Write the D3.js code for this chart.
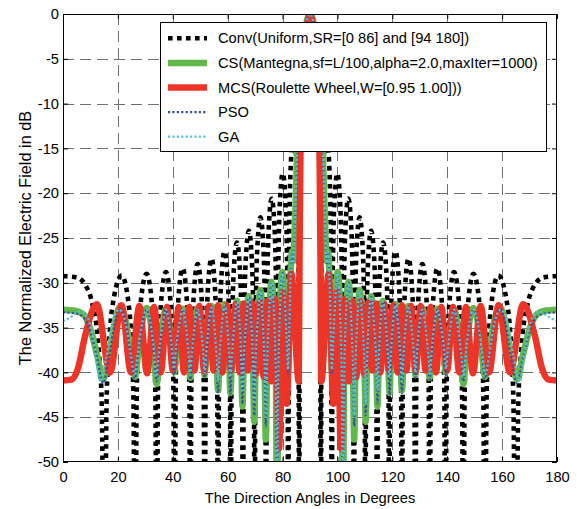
<!DOCTYPE html>
<html><head><meta charset="utf-8">
<script src="https://cdn.jsdelivr.net/npm/d3@7"></script>
<style>
body{margin:0;background:#fff}
svg{display:block}
text{font-family:"Liberation Sans",Arial,Helvetica,sans-serif;fill:#000}
</style>
</head><body>
<svg id="chart" width="577" height="509"></svg>
<script>
// ---------------- data ----------------
const angleTicks = [0, 20, 40, 60, 80, 100, 120, 140, 160, 180];
const dbTicks = [0, -5, -10, -15, -20, -25, -30, -35, -40, -45, -50];
const seriesNames = [
  "Conv(Uniform,SR=[0 86] and [94 180])",
  "CS(Mantegna,sf=L/100,alpha=2.0,maxIter=1000)",
  "MCS(Roulette Wheel,W=[0.95 1.00]))",
  "PSO",
  "GA"
];
// Patterns are symmetric about 90 deg: values for 0..90 deg, [angle, dB]
const convHalf = [
 [0,-29.25],[5,-29.4],[9.1,-30.8],[10.66,-32.3],[13.06,-37.6],[14.11,-43.4],[15.08,-70],
 [15.87,-43.4],[16.66,-37.5],[18.24,-32.2],[21.39,-29.2],[23.85,-32.2],[25.07,-37.5],[25.69,-43.4],[26.30,-70],
 [26.82,-43.2],[27.34,-37.3],[28.38,-32.0],[30.45,-29.0],[32.30,-32.0],[33.23,-37.3],[33.69,-43.2],[34.15,-70],
 [34.57,-43.0],[34.99,-37.1],[35.84,-31.8],[37.52,-28.8],[39.09,-31.8],[39.88,-37.1],[40.27,-43.0],[40.66,-70],
 [41.03,-42.6],[41.40,-36.7],[42.13,-31.4],[43.60,-28.4],[45.00,-31.4],[45.70,-36.7],[46.05,-42.6],[46.40,-70],
 [46.73,-42.1],[47.07,-36.2],[47.74,-30.9],[49.07,-27.9],[50.35,-30.9],[50.99,-36.2],[51.31,-42.1],[51.63,-70],
 [51.94,-41.5],[52.25,-35.6],[52.87,-30.3],[54.11,-27.3],[55.31,-30.3],[55.91,-35.6],[56.21,-41.5],[56.51,-70],
 [56.80,-40.7],[57.10,-34.8],[57.69,-29.5],[58.86,-26.5],[60.00,-29.5],[60.56,-34.8],[60.85,-40.7],[61.13,-70],
 [61.41,-39.7],[61.69,-33.8],[62.25,-28.5],[63.37,-25.5],[64.47,-28.5],[65.01,-33.8],[65.29,-39.7],[65.56,-70],
 [65.83,-38.4],[66.10,-32.5],[66.64,-27.2],[67.71,-24.2],[68.77,-27.2],[69.30,-32.5],[69.57,-38.4],[69.83,-70],
 [70.09,-36.9],[70.35,-31.0],[70.88,-25.7],[71.92,-22.7],[72.96,-25.7],[73.47,-31.0],[73.73,-36.9],[73.99,-70],
 [74.25,-34.8],[74.50,-28.9],[75.01,-23.6],[76.03,-20.6],[77.05,-23.6],[77.55,-28.9],[77.81,-34.8],[78.06,-70],
 [78.31,-32.0],[78.56,-26.1],[79.07,-20.8],[80.07,-17.8],[81.07,-20.8],[81.57,-26.1],[81.82,-32.0],[82.07,-70],
 [82.32,-27.6],[82.57,-21.7],[83.07,-16.4],[84.06,-13.4],[85.06,-16.4],[85.55,-21.7],[85.80,-27.6],[86.05,-70],
 [86.29,-23.6],[86.54,-17.1],[87.04,-10.45],[88.02,-3.92],[89.01,-0.91],[90,0]
];
const csHalf = [
 [0,-33.0],[4,-33.1],[7.3,-33.5],[10,-35.2],[12.5,-38.2],[14.6,-40.8],[16.8,-38.0],[18.8,-34.5],[20.8,-32.7],
 [22.9,-34.3],[24.8,-38.0],[26.2,-40.5],[27.5,-37.5],[28.9,-34.3],[30.5,-32.8],[32.2,-35.0],[33.3,-38.5],[34.1,-41.3],
 [35.0,-38.3],[36.1,-35.0],[37.5,-32.9],[39.0,-35.3],[39.9,-38.3],[40.5,-40.0],[41.3,-37.5],[42.3,-34.8],[43.6,-32.9],
 [44.9,-35.3],[45.8,-38.5],[46.4,-40.6],[47.1,-38.0],[47.9,-35.0],[49.1,-32.8],[50.3,-35.3],[51.1,-38.3],[51.6,-40.3],
 [52.2,-38.0],[53.0,-35.0],[54.1,-32.6],[55.3,-35.5],[56.0,-39.0],[56.5,-42.0],[57.0,-39.0],[57.8,-35.0],[58.9,-32.4],
 [60.0,-35.5],[60.6,-39.0],[61.0,-42.3],[61.5,-39.0],[62.3,-35.0],[63.4,-32.0],[64.5,-35.5],[65.0,-39.5],[65.4,-43.8],
 [65.8,-39.5],[66.6,-35.0],[67.7,-31.5],[68.8,-35.5],[69.3,-40.0],[69.7,-45.5],[70.1,-40.0],[70.9,-34.5],[71.9,-30.8],
 [72.9,-35.0],[73.5,-40.5],[73.9,-47.5],[74.3,-40.5],[75.0,-34.0],[76.0,-29.9],[77.0,-34.5],[77.6,-41.0],[78.0,-60],
 [78.4,-41.0],[79.0,-33.5],[79.9,-28.8],[80.9,-32.5],[81.6,-37.0],[82.0,-40.0],[82.4,-36.0],[82.9,-29.5],[83.4,-26.5],
 [83.9,-27.6],[84.4,-24.5],[85.0,-18.5],[85.6,-13.0],[86.5,-7.5],[87.6,-3.5],[88.7,-1.0],[90,0]
];
const mcsHalf = [
 [0,-40.9],[3,-40.8],[5.5,-39.5],[8,-36.0],[12.3,-32.4],[17.14,-40.0],[21.30,-32.5],[24.78,-40.0],[27.83,-32.6],
 [30.64,-40.1],[33.20,-32.7],[35.61,-40.0],[37.88,-32.7],[40.05,-39.8],[42.12,-32.7],[44.11,-40.0],[46.03,-32.7],
 [47.89,-39.8],[49.70,-32.6],[51.47,-39.9],[53.18,-32.6],[54.87,-39.8],[56.51,-32.5],[58.13,-40.0],[59.72,-32.5],
 [61.28,-39.8],[62.82,-32.4],[64.34,-40.0],[65.84,-32.3],[67.32,-39.8],[68.79,-32.2],[70.24,-40.2],[71.68,-32.1],
 [73.11,-40.5],[74.53,-32.0],[75.94,-41.0],[77.33,-31.8],[78.73,-48.5],[80.11,-31.0],[81.49,-43.5],[83.2,-29.0],
 [85.9,-41.0],[86.2,-26.0],[86.5,-16.0],[87.2,-9.0],[88.2,-3.8],[89.1,-1.0],[90,0]
];
const psoHalf = [
 [0,-33.3],[4,-33.4],[7.3,-33.8],[10,-35.5],[12.5,-38.5],[14.6,-41.2],[16.8,-38.2],[18.8,-34.6],[20.8,-32.9],
 [22.9,-34.5],[24.8,-38.2],[26.2,-40.7],[27.5,-37.7],[28.9,-34.5],[30.5,-33.0],[32.2,-35.2],[33.3,-38.4],[34.1,-41.0],
 [35.0,-38.2],[36.1,-35.1],[37.5,-33.0],[39.0,-35.4],[39.9,-38.5],[40.5,-40.3],[41.3,-37.6],[42.3,-34.9],[43.6,-33.0],
 [44.9,-35.4],[45.8,-38.6],[46.4,-40.8],[47.1,-38.2],[47.9,-35.1],[49.1,-32.9],[50.3,-35.4],[51.1,-38.5],[51.6,-40.6],
 [52.2,-38.2],[53.0,-35.1],[54.1,-32.7],[55.3,-35.6],[56.0,-39.3],[56.5,-42.3],[57.0,-39.2],[57.8,-35.1],[58.9,-32.5],
 [60.0,-35.6],[60.6,-39.2],[61.0,-42.5],[61.5,-39.2],[62.3,-35.1],[63.4,-32.1],[64.5,-35.6],[65.0,-39.6],[65.4,-43.5],
 [65.8,-39.6],[66.6,-35.1],[67.7,-31.6],[68.8,-35.6],[69.3,-40.0],[69.7,-44.8],[70.1,-40.0],[70.9,-34.6],[71.9,-30.9],
 [72.9,-35.1],[73.5,-40.8],[73.9,-46.0],[74.3,-40.8],[75.0,-34.1],[76.0,-30.0],[77.0,-34.6],[77.6,-41.5],[78.0,-62],
 [78.4,-41.5],[79.0,-33.6],[79.9,-28.9],[80.9,-32.6],[81.6,-37.2],[82.0,-40.2],[82.4,-36.2],[82.9,-29.6],[83.4,-26.6],
 [83.9,-27.8],[84.4,-24.6],[85.0,-18.6],[85.6,-13.1],[86.5,-7.6],[87.6,-3.5],[88.7,-1.0],[90,0]
];
const gaHalf = [
 [0,-34.3],[3,-33.8],[6.5,-33.2],[9,-33.9],[11.3,-36.8],[13.6,-41.0],[15.8,-38.3],[18.2,-34.2],[20.6,-33.0],
 [22.8,-34.5],[24.7,-38.0],[26.0,-40.2],[27.4,-37.5],[28.9,-34.4],[30.5,-33.0],[32.2,-35.1],[33.3,-38.2],[34.0,-40.5],
 [34.9,-38.0],[36.1,-35.0],[37.5,-33.0],[39.0,-35.3],[39.9,-38.0],[40.4,-39.6],[41.2,-37.3],[42.3,-34.8],[43.6,-33.0],
 [44.9,-35.2],[45.8,-38.2],[46.3,-40.2],[47.0,-37.8],[47.9,-35.0],[49.1,-33.0],[50.3,-35.2],[51.1,-38.0],[51.6,-40.0],
 [52.2,-37.8],[53.0,-35.0],[54.1,-32.8],[55.3,-35.4],[56.0,-38.6],[56.5,-41.0],[57.0,-38.6],[57.8,-35.0],[58.9,-32.5],
 [60.0,-35.4],[60.6,-38.4],[61.0,-40.5],[61.5,-38.4],[62.3,-35.0],[63.4,-32.1],[64.5,-35.4],[65.0,-39.0],[65.4,-42.0],
 [65.8,-39.0],[66.6,-35.0],[67.7,-31.6],[68.8,-35.4],[69.3,-39.5],[69.7,-43.5],[70.1,-39.5],[70.9,-34.5],[71.9,-30.9],
 [72.9,-35.0],[73.5,-40.0],[73.9,-45.0],[74.3,-40.0],[75.0,-34.0],[76.0,-30.0],[77.0,-34.5],[77.6,-41.5],[78.0,-62],
 [78.4,-41.5],[79.0,-33.6],[79.9,-28.9],[80.9,-32.5],[81.6,-37.0],[82.0,-39.7],[82.4,-36.0],[82.9,-29.6],[83.4,-26.6],
 [83.9,-27.8],[84.4,-24.6],[85.0,-18.6],[85.6,-13.1],[86.5,-7.6],[87.6,-3.5],[88.7,-1.0],[90,0]
];

// ---------------- build full 0..180 patterns (mirror about 90 deg) ----------------
function mirrorPattern(half) {
  const right = half.slice(0, -1).reverse().map(d => [180 - d[0], d[1]]);
  return half.concat(right);
}
const series = [
  {name: seriesNames[0], data: mirrorPattern(convHalf), color: "#000000", width: 4.6, dash: "4.6,4.4"},
  {name: seriesNames[1], data: mirrorPattern(csHalf),   color: "#62b94b", width: 6.5, dash: null},
  {name: seriesNames[2], data: mirrorPattern(mcsHalf),  color: "#ee3426", width: 6.5, dash: null},
  {name: seriesNames[3], data: mirrorPattern(psoHalf),  color: "#3452a4", width: 2.2, dash: "2.2,2.2"},
  {name: seriesNames[4], data: mirrorPattern(gaHalf),   color: "#55c3d6", width: 2.2, dash: "2.2,2.2"}
];

// ---------------- layout ----------------
const L = 63, R = 557, T = 14, B = 462;
const FS = 14.7;
const svg = d3.select("#chart");
const x = d3.scaleLinear().domain([0, 180]).range([L, R]);
const y = d3.scaleLinear().domain([-50, 0]).range([B, T]);

svg.append("defs").append("clipPath").attr("id", "plotclip")
  .append("rect").attr("x", L).attr("y", T).attr("width", R - L).attr("height", B - T);

// grid
const grid = svg.append("g").attr("stroke", "#6f6f6f").attr("stroke-width", 1).attr("stroke-dasharray", "11,6");
grid.selectAll("line.v").data(angleTicks.filter(d => d > 0 && d < 180)).join("line")
  .attr("x1", d => Math.round(x(d)) + 0.5).attr("x2", d => Math.round(x(d)) + 0.5)
  .attr("y1", T).attr("y2", B);
grid.selectAll("line.h").data(dbTicks.filter(d => d < 0 && d > -50)).join("line")
  .attr("y1", d => Math.round(y(d)) + 0.5).attr("y2", d => Math.round(y(d)) + 0.5)
  .attr("x1", L).attr("x2", R);

// curves
const line = d3.line().x(d => x(d[0])).y(d => y(d[1])).curve(d3.curveMonotoneX);
const plot = svg.append("g").attr("clip-path", "url(#plotclip)");
series.forEach(s => {
  plot.append("path").datum(s.data)
    .attr("d", line)
    .attr("fill", "none")
    .attr("stroke", s.color)
    .attr("stroke-width", s.width)
    .attr("stroke-linejoin", "round")
    .attr("stroke-dasharray", s.dash);
});

// axes
function styleAxis(g) {
  g.select(".domain").remove();
  g.selectAll(".tick line").attr("stroke", "#000");
  g.selectAll(".tick text").attr("font-size", FS).attr("fill", "#000")
    .attr("font-family", "Liberation Sans, Arial, sans-serif");
}
svg.append("g").attr("transform", `translate(0,${B})`)
  .call(d3.axisBottom(x).tickValues(angleTicks).tickSizeInner(-5).tickSizeOuter(0).tickPadding(10).tickFormat(d => String(d)))
  .call(styleAxis);
svg.append("g").attr("transform", `translate(0,${T})`)
  .call(d3.axisTop(x).tickValues(angleTicks).tickSizeInner(-5).tickSizeOuter(0).tickFormat(""))
  .call(styleAxis);
svg.append("g").attr("transform", `translate(${L},0)`)
  .call(d3.axisLeft(y).tickValues(dbTicks).tickSizeInner(-5).tickSizeOuter(0).tickPadding(4).tickFormat(d => String(d)))
  .call(styleAxis);
svg.append("g").attr("transform", `translate(${R},0)`)
  .call(d3.axisRight(y).tickValues(dbTicks).tickSizeInner(-5).tickSizeOuter(0).tickFormat(""))
  .call(styleAxis);

// frame
svg.append("rect").attr("x", L + 0.5).attr("y", T + 0.5).attr("width", R - L - 1).attr("height", B - T - 1)
  .attr("fill", "none").attr("stroke", "#000").attr("stroke-width", 1);

// axis titles
svg.append("text").attr("x", (L + R) / 2).attr("y", 503).attr("text-anchor", "middle")
  .attr("font-size", FS).text("The Direction Angles in Degrees");
svg.append("text").attr("transform", `translate(31,${(T + B) / 2}) rotate(-90)`).attr("text-anchor", "middle")
  .attr("font-size", 16.3).text("The Normalized Electric Field in dB");

// legend
const lg = svg.append("g");
lg.append("rect").attr("x", 160.5).attr("y", 22.5).attr("width", 386).attr("height", 129)
  .attr("fill", "#fff").attr("stroke", "#000").attr("stroke-width", 1);
series.forEach((s, i) => {
  const yy = 38.3 + i * 24.6;
  lg.append("line").attr("x1", 168).attr("x2", 207).attr("y1", yy).attr("y2", yy)
    .attr("stroke", s.color).attr("stroke-width", s.width).attr("stroke-dasharray", s.dash);
  lg.append("text").attr("x", 218).attr("y", yy).attr("dy", "0.35em")
    .attr("font-size", FS).text(s.name);
});
</script>
</body></html>
